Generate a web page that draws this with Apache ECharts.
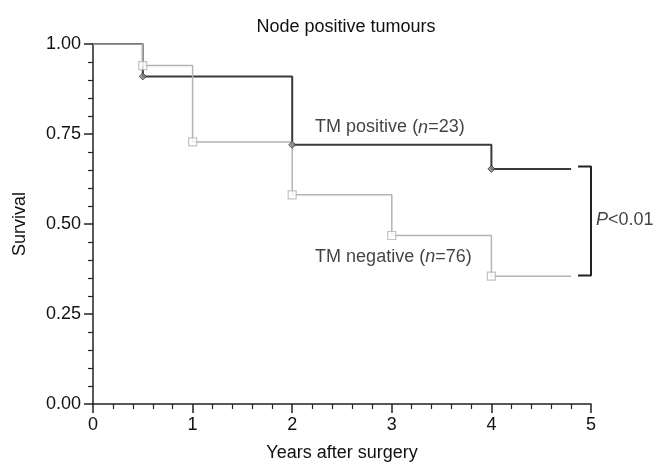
<!DOCTYPE html>
<html><head><meta charset="utf-8">
<script src="https://cdn.jsdelivr.net/npm/echarts@6/dist/echarts.min.js"></script>
<style>html,body{margin:0;padding:0;background:#fff}#c{width:657px;height:467px}</style>
</head><body><div id="c"></div>
<script>
var posTimes = [0, 0.5, 2, 4, 4.8];
var posSurv  = [1.0, 0.91, 0.72, 0.653, 0.653];
var negTimes = [0, 0.5, 1, 2, 3, 4, 4.8];
var negSurv  = [1.0, 0.94, 0.728, 0.581, 0.468, 0.355, 0.355];
var posMarkTimes = [0.5, 2, 4];
var posMarkSurv  = [0.91, 0.72, 0.653];
var negMarkTimes = [0.5, 1, 2, 3, 4];
var negMarkSurv  = [0.94, 0.728, 0.581, 0.468, 0.355];
var bracketX = [4.87, 5.0, 5.0, 4.87];
var bracketY = [0.66, 0.66, 0.357, 0.357];
var xTicks = [0, 1, 2, 3, 4, 5];
var yTicks = [0, 0.25, 0.5, 0.75, 1.0];

function pairs(a, b){ return a.map(function(v,i){return [v,b[i]];}); }
var FONT = '"Liberation Sans", Arial, sans-serif';
var FS = 18;
var chart = echarts.init(document.getElementById('c'));
chart.setOption({
  animation:false,
  title:{text:'Node positive tumours', left:341, top:13, textAlign:'center',
    textStyle:{fontFamily:FONT, fontSize:FS, fontWeight:'normal', color:'#111'}},
  grid:{left:93, right:66, top:44, bottom:61},
  xAxis:{type:'value', min:0, max:5, interval:1,
    name:'Years after surgery', nameLocation:'middle', nameGap:40,
    nameTextStyle:{fontFamily:FONT, fontSize:FS, color:'#111'},
    axisLine:{show:true, onZero:false, lineStyle:{color:'#222', width:1.5}},
    axisTick:{show:true, inside:false, length:9, lineStyle:{color:'#222', width:1.5}},
    minorTick:{show:true, splitNumber:5, length:5, lineStyle:{color:'#222', width:1.2}},
    splitLine:{show:false},
    axisLabel:{fontFamily:FONT, fontSize:FS, color:'#111', margin:12,
      formatter:function(v){return xTicks.indexOf(v)>=0 ? String(v) : '';}}
  },
  yAxis:{type:'value', min:0, max:1, interval:0.25,
    name:'Survival', nameLocation:'middle', nameGap:64, nameRotate:90,
    nameTextStyle:{fontFamily:FONT, fontSize:FS, color:'#111', padding:[0,0,0,0]},
    axisLine:{show:true, lineStyle:{color:'#222', width:1.5}},
    axisTick:{show:true, inside:false, length:9, lineStyle:{color:'#222', width:1.5}},
    minorTick:{show:true, splitNumber:5, length:5, lineStyle:{color:'#222', width:1.2}},
    splitLine:{show:false},
    axisLabel:{fontFamily:FONT, fontSize:FS, color:'#111', margin:12,
      formatter:function(v){return yTicks.indexOf(v)>=0 ? v.toFixed(2) : '';}}
  },
  series:[
    {type:'line', step:'end', data:pairs(posTimes,posSurv), showSymbol:false, symbol:'none',
      lineStyle:{color:'#3a3a3a', width:2}, z:2},
    {type:'line', step:'end', data:pairs(negTimes,negSurv), showSymbol:false, symbol:'none',
      lineStyle:{color:'#b4b4b4', width:1.5}, z:3},
    {type:'scatter', data:pairs(posMarkTimes,posMarkSurv), symbol:'diamond', symbolSize:7,
      itemStyle:{color:'#888', borderColor:'#333', borderWidth:1}, z:5},
    {type:'scatter', data:pairs(negMarkTimes,negMarkSurv), symbol:'rect', symbolSize:8,
      itemStyle:{color:'#fff', borderColor:'#b4b4b4', borderWidth:1.2}, z:4},
    {type:'line', data:pairs(bracketX,bracketY), symbol:'none', showSymbol:false, clip:false,
      lineStyle:{color:'#222', width:2}, z:3},
    {type:'scatter', clip:false, symbolSize:0, silent:true,
      data:[
        {value:[2.23,0.768], label:{show:true, position:'right', distance:0,
          formatter:'TM positive ({i|n}=23)'}},
        {value:[2.23,0.409], label:{show:true, position:'right', distance:0,
          formatter:'TM negative ({i|n}=76)'}},
        {value:[5.05,0.51], label:{show:true, position:'right', distance:0,
          formatter:'{i|P}<0.01'}}
      ],
      label:{fontFamily:FONT, fontSize:FS, color:'#111',
        rich:{i:{fontFamily:FONT, fontSize:FS, fontStyle:'italic', color:'#111'}}}
    }
  ]
});
</script></body></html>
